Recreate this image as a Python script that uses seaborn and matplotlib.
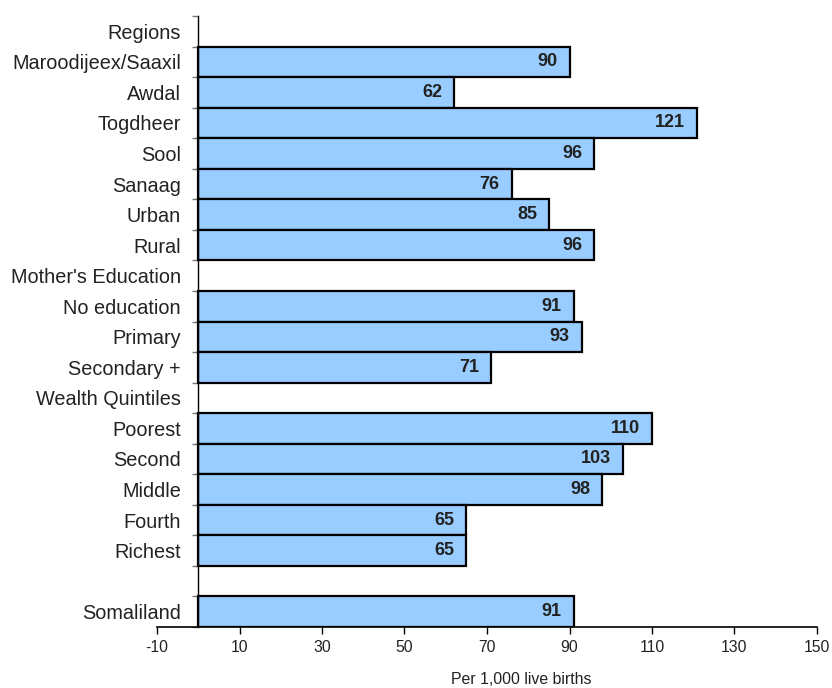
import matplotlib
matplotlib.use("Agg")
import matplotlib.pyplot as plt
import seaborn as sns
import numpy as np
import pandas as pd

categories = ["Regions", "Maroodijeex/Saaxil", "Awdal", "Togdheer", "Sool", "Sanaag",
              "Urban", "Rural", "Mother's Education", "No education", "Primary",
              "Secondary +", "Wealth Quintiles", "Poorest", "Second", "Middle",
              "Fourth", "Richest", " ", "Somaliland"]
values = [np.nan, 90, 62, 121, 96, 76, 85, 96, np.nan, 91, 93, 71, np.nan,
          110, 103, 98, 65, 65, np.nan, 91]
xticks = [-10, 10, 30, 50, 70, 90, 110, 130, 150]

sns.set_theme(style="white")
plt.rcParams['font.family'] = ['Liberation Sans', 'DejaVu Sans']

df = pd.DataFrame({"cat": categories, "val": values})

fig = plt.figure(figsize=(8.32, 6.88), dpi=100)
ax = fig.add_axes([157/832, 1-627/688, 660/832, 611/688])

sns.barplot(data=df, x="val", y="cat", order=categories, orient="h",
            color="#99CCFF", saturation=1, edgecolor="black", linewidth=1.6,
            width=1.0, ax=ax)

ax.set_xlabel("")
ax.set_ylabel("")
for s in ["top", "right"]:
    ax.spines[s].set_visible(False)
ax.spines["left"].set_position(("data", 0))
ax.spines["left"].set_color("black")
ax.spines["left"].set_linewidth(1)
ax.spines["bottom"].set_color("black")
ax.spines["bottom"].set_linewidth(1.2)

ax.set_xlim(-10, 150)
ax.set_ylim(len(categories) - 0.5, -0.5)
ax.set_xticks(xticks)
ax.set_xticklabels([str(t) for t in xticks])
ax.tick_params(axis="x", direction="out", length=5, width=1, color="black",
               bottom=True, pad=4, labelsize=11.3, labelcolor="#222222")
ax.set_yticks(range(len(categories)))
ax.set_yticklabels(categories)
ax.tick_params(axis="y", which="major", length=0, pad=12.5, labelsize=14.3,
               labelcolor="#222222")
ax.set_yticks(np.arange(-0.5, len(categories), 1), minor=True)
ax.tick_params(axis="y", which="minor", direction="out", length=4, width=1,
               color="#777777", left=True)

for i, v in enumerate(values):
    if not np.isnan(v):
        ax.annotate(f"{int(v)}", xy=(v, i), xytext=(-12, 0),
                    textcoords="offset pixels",
                    ha="right", va="center", fontsize=13, fontweight="bold",
                    color="#222222")

fig.text(521/832, 1-680/688, "Per 1,000 live births", ha="center", va="center",
         fontsize=11.4, color="#222222")

fig.savefig("out.png", dpi=100)
